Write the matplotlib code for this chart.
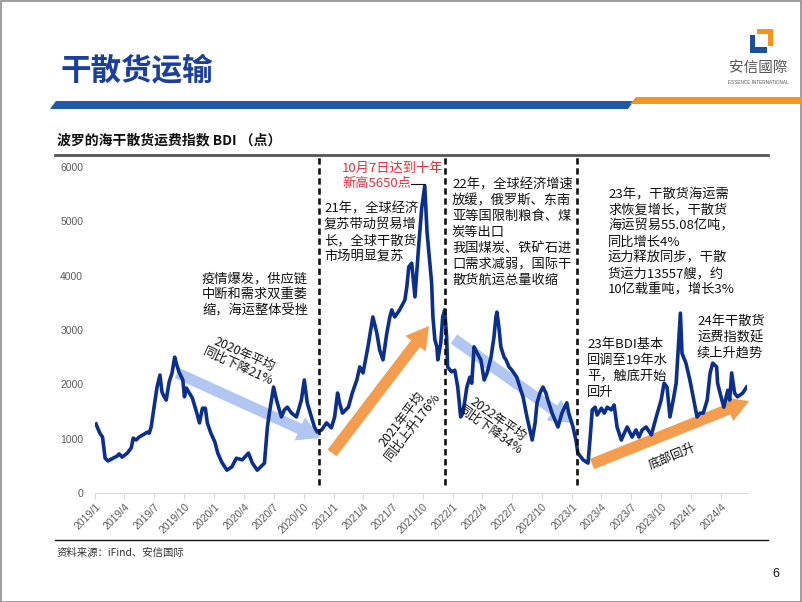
import matplotlib
matplotlib.use("Agg")
import matplotlib.pyplot as plt
import matplotlib.dates as mdates
from matplotlib.patches import Polygon, Rectangle
import pandas as pd

plt.rcParams['font.family'] = ['Noto Sans CJK SC', 'DejaVu Sans']

# BDI readings taken off the reference chart
dates = [
    "2019-01-04", "2019-01-16", "2019-01-24", "2019-02-01", "2019-02-10", "2019-02-25",
    "2019-03-10", "2019-03-16", "2019-03-25", "2019-04-10", "2019-04-22", "2019-04-28",
    "2019-05-07", "2019-05-16", "2019-06-01", "2019-06-10", "2019-06-16", "2019-06-22",
    "2019-07-01", "2019-07-10", "2019-07-19", "2019-07-25", "2019-08-01", "2019-08-07",
    "2019-08-16", "2019-08-25", "2019-09-02", "2019-09-07", "2019-09-15", "2019-09-27",
    "2019-10-02", "2019-10-08", "2019-10-17", "2019-10-26", "2019-11-08", "2019-11-17",
    "2019-11-26", "2019-12-05", "2019-12-11", "2019-12-22", "2020-01-03", "2020-01-12",
    "2020-01-24", "2020-02-09", "2020-02-24", "2020-03-09", "2020-03-27", "2020-04-15",
    "2020-04-27", "2020-05-12", "2020-06-03", "2020-06-12", "2020-06-18", "2020-07-01",
    "2020-07-10", "2020-07-25", "2020-08-03", "2020-08-12", "2020-08-25", "2020-09-09",
    "2020-09-24", "2020-10-03", "2020-10-12", "2020-10-25", "2020-11-03", "2020-11-12",
    "2020-11-25", "2020-12-10", "2020-12-25", "2021-01-04", "2021-01-13", "2021-01-19",
    "2021-01-28", "2021-02-15", "2021-02-27", "2021-03-13", "2021-03-22", "2021-04-01",
    "2021-04-16", "2021-05-01", "2021-05-13", "2021-05-22", "2021-06-01", "2021-06-13",
    "2021-06-22", "2021-06-28", "2021-07-07", "2021-07-22", "2021-08-07", "2021-08-13",
    "2021-08-19", "2021-08-28", "2021-09-01", "2021-09-07", "2021-09-13", "2021-09-19",
    "2021-09-28", "2021-10-07", "2021-10-14", "2021-10-28", "2021-11-01", "2021-11-07",
    "2021-11-13", "2021-11-16", "2021-11-25", "2021-12-01", "2021-12-07", "2021-12-13",
    "2021-12-16", "2021-12-28", "2022-01-07", "2022-01-16", "2022-01-25", "2022-02-01",
    "2022-02-13", "2022-02-22", "2022-02-28", "2022-03-07", "2022-03-16", "2022-03-28",
    "2022-04-07", "2022-04-16", "2022-04-28", "2022-05-07", "2022-05-13", "2022-05-16",
    "2022-05-22", "2022-05-28", "2022-06-07", "2022-06-13", "2022-06-22", "2022-07-01",
    "2022-07-16", "2022-07-25", "2022-08-04", "2022-08-16", "2022-08-25", "2022-09-01",
    "2022-09-10", "2022-09-16", "2022-09-25", "2022-10-04", "2022-10-13", "2022-10-19",
    "2022-11-01", "2022-11-10", "2022-11-19", "2022-12-01", "2022-12-16", "2022-12-22",
    "2023-01-04", "2023-01-13", "2023-01-19", "2023-02-04", "2023-02-19", "2023-02-25",
    "2023-03-04", "2023-03-13", "2023-03-19", "2023-04-01", "2023-04-10", "2023-04-19",
    "2023-05-01", "2023-05-10", "2023-05-19", "2023-06-01", "2023-06-10", "2023-06-19",
    "2023-07-04", "2023-07-16", "2023-07-25", "2023-08-04", "2023-08-16", "2023-09-01",
    "2023-09-16", "2023-10-01", "2023-10-10", "2023-10-19", "2023-10-28", "2023-11-07",
    "2023-11-16", "2023-11-22", "2023-11-29", "2023-12-04", "2023-12-16", "2023-12-28",
    "2024-01-07", "2024-01-19", "2024-01-28", "2024-02-07", "2024-02-19", "2024-02-28",
    "2024-03-07", "2024-03-19", "2024-03-22", "2024-04-04", "2024-04-10", "2024-04-22",
    "2024-04-28", "2024-05-04", "2024-05-13", "2024-05-22", "2024-06-07", "2024-06-19",
]
bdi = [
    1270, 1100, 1030, 640, 590, 640,
    680, 720, 660, 735, 830, 1010,
    975, 1030, 1085, 1120, 1100, 1215,
    1580, 1950, 2170, 1860, 1770, 1710,
    2040, 2210, 2500, 2390, 2230, 2080,
    1770, 1930, 1840, 1750, 1490, 1290,
    1560, 1560, 1290, 1100, 940, 735,
    570, 420, 480, 640, 610, 735,
    550, 420, 550, 1215, 1470, 1950,
    1710, 1400, 1530, 1580, 1470, 1400,
    1710, 2080, 1660, 1400, 1215, 1120,
    1160, 1290, 1200, 1400, 1840, 1660,
    1470, 1580, 1840, 2080, 2320, 2210,
    2690, 3240, 2950, 2630, 2450, 2950,
    3240, 3370, 3240, 3370, 3550, 3790,
    4160, 4230, 3980, 3610, 4100, 4600,
    5260, 5650, 4800, 3870, 3240, 2820,
    2690, 2450, 2760, 3240, 3370, 2870,
    2320, 2230, 2260, 1950, 1400, 1470,
    1950, 2130, 2020, 2690, 2580, 2450,
    2080, 2210, 2500, 2870, 3240, 3330,
    3060, 2690, 2500, 2450, 2320, 2260,
    2130, 1950, 1770, 1400, 1160, 975,
    1290, 1660, 1840, 1950, 1840, 1710,
    1470, 1340, 1215, 1470, 1660, 1470,
    1215, 975, 735, 610, 550, 975,
    1530, 1580, 1435, 1560, 1470, 1580,
    1530, 1620, 1215, 975, 1100, 1215,
    1030, 1160, 1030, 1160, 1215, 1070,
    1400, 1710, 2020, 1950, 1400, 1710,
    2020, 2630, 3310, 2570, 2390, 2080,
    1770, 1400, 1470, 1470, 1710, 2210,
    2390, 2320, 2020, 1710, 1580, 1890,
    1710, 2210, 1840, 1770, 1840, 1950,
]
period_breaks = ["2020-11-16", "2021-12-07", "2023-01-16"]
y_ticks = [0, 1000, 2000, 3000, 4000, 5000, 6000]

W, H = 802, 602


def P(x, y):
    # pixel position on the slide -> figure fraction
    return x / W, 1 - y / H


fig = plt.figure(figsize=(W / 100, H / 100), dpi=100)
fig.patch.set_facecolor('white')

# slide frame
fig.add_artist(Rectangle((0.5 / W, 0.5 / H), 1 - 1.5 / W, 1 - 1.5 / H, transform=fig.transFigure,
                         fill=False, ec='#8c8c8c', lw=1.2))

# header
fig.text(*P(60, 71), "干散货运输", fontsize=22, color='#1c3f9c', fontweight='bold', va='center')
fig.add_artist(Polygon([P(56, 101), P(634, 101), P(628, 109), P(50, 109)], closed=True,
                       transform=fig.transFigure, fc='#1f5aa8', ec='none'))
fig.add_artist(Polygon([P(636, 97), P(802, 97), P(802, 104), P(630, 104)], closed=True,
                       transform=fig.transFigure, fc='#f7941d', ec='none'))
# logo
fig.add_artist(Polygon([P(757, 29), P(773, 29), P(773, 46), P(768, 46), P(768, 34), P(757, 34)],
                       closed=True, transform=fig.transFigure, fc='#f7941d', ec='none'))
fig.add_artist(Polygon([P(750, 35), P(755, 35), P(755, 47), P(767, 47), P(767, 53), P(750, 53)],
                       closed=True, transform=fig.transFigure, fc='#1f4e9c', ec='none'))
fig.text(*P(758, 68), "安信國際", fontsize=10.5, color='#555555', ha='center', va='center')
fig.text(*P(758, 82), "ESSENCE INTERNATIONAL", fontsize=3.3, color='#555555', ha='center',
         va='center', family='Liberation Sans')

# chart title and rules
fig.text(*P(57, 140), "波罗的海干散货运费指数 BDI （点）", fontsize=10, fontweight='bold',
         color='#111111', va='center')
fig.add_artist(plt.Line2D([55 / W, 768 / W], [1 - 155 / H] * 2, transform=fig.transFigure,
                          color='#555555', lw=2))
fig.add_artist(plt.Line2D([55 / W, 768 / W], [1 - 540 / H] * 2, transform=fig.transFigure,
                          color='#111111', lw=1))
fig.text(*P(57, 553), "资料来源：iFind、安信国际", fontsize=7.5, color='#333333', va='center')
fig.text(*P(776, 574), "6", fontsize=9, color='#111111', ha='center', va='center',
         family='Liberation Sans')

# main chart
ax = fig.add_axes([95 / W, 1 - 493 / H, (747 - 95) / W, (493 - 167) / H])
x = pd.to_datetime(dates)
ax.plot(x, bdi, color='#0d2f8c', lw=2.6, solid_joinstyle='round', zorder=3)
ax.set_ylim(0, 6000)
ax.set_xlim(pd.Timestamp("2019-01-01"), pd.Timestamp("2024-06-20"))
ax.set_yticks(y_ticks)
ax.set_yticklabels([str(v) for v in y_ticks], family='Liberation Sans', fontsize=7.5,
                   color='#595959')
ax.xaxis.set_major_locator(mdates.MonthLocator(bymonth=[1, 4, 7, 10]))
ax.xaxis.set_major_formatter(mdates.DateFormatter('%Y/%-m'))
for lab in ax.get_xticklabels():
    lab.set_rotation(45)
    lab.set_ha('right')
    lab.set_rotation_mode('anchor')
    lab.set_family('Liberation Sans')
    lab.set_fontsize(7.5)
    lab.set_color('#595959')
ax.tick_params(axis='y', length=0, pad=8.5)
ax.tick_params(axis='x', length=4, color='#d9d9d9', pad=2)
for s in ['left', 'top', 'right']:
    ax.spines[s].set_visible(False)
ax.spines['bottom'].set_color('#d9d9d9')
ax.patch.set_alpha(0)

for d in period_breaks:
    ax.axvline(pd.Timestamp(d), ymin=0.025, ymax=1.037, color='#111111', lw=1.9,
               ls=(0, (2.4, 1.4)), clip_on=False, zorder=4)


def arrow(x0, y0, x1, y1, color):
    ax.annotate('', xy=(x1, H - y1), xytext=(x0, H - y0), xycoords='figure pixels',
                textcoords='figure pixels',
                arrowprops=dict(arrowstyle='simple,head_length=1.0,head_width=1.15,tail_width=0.5',
                                mutation_scale=16, fc=color, ec='none', shrinkA=0, shrinkB=0),
                zorder=2)


blue_arrow = '#b1c7f2'
orange_arrow = '#f59d4f'
arrow(177, 373, 320, 438, blue_arrow)
arrow(332, 453, 429, 326, orange_arrow)
arrow(454, 339, 572, 423, blue_arrow)
arrow(592, 464, 749, 401, orange_arrow)

tkw = dict(fontsize=9, color='#111111', ha='center', va='center', rotation_mode='anchor',
           multialignment='center', linespacing=1.0)
fig.text(*P(241, 360), "2020年平均\n同比下降21%", rotation=-24.5, **tkw)
fig.text(*P(407, 423), "2021年平均\n同比上升176%", rotation=52, **tkw)
fig.text(*P(494, 425), "2022年平均\n同比下降34%", rotation=-35.5, **tkw)
fig.text(*P(672, 456), "底部回升", rotation=22, **tkw)

nkw = dict(fontsize=9.5, color='#111111', ha='left', va='top', linespacing=1.29)
fig.text(*P(202, 272), "疫情爆发，供应链\n中断和需求双重萎\n缩，海运整体受挫", **nkw)
fig.text(*P(324, 202), "21年，全球经济\n复苏带动贸易增\n长，全球干散货\n市场明显复苏", **nkw)
fig.text(*P(452, 178), "22年，全球经济增速\n放缓，俄罗斯、东南\n亚等国限制粮食、煤\n炭等出口\n我国煤炭、铁矿石进\n口需求减弱，国际干\n散货航运总量收缩",
         **nkw)
fig.text(*P(608, 188), "23年，干散货海运需\n求恢复增长，干散货\n海运贸易55.08亿吨，\n同比增长4%\n运力释放同步，干散\n货运力13557艘，约\n10亿载重吨，增长3%",
         **nkw)
fig.text(*P(587, 338), "23年BDI基本\n回调至19年水\n平，触底开始\n回升", **nkw)
fig.text(*P(697, 315), "24年干散货\n运费指数延\n续上升趋势", **nkw)

fig.text(*P(342, 162), "10月7日达到十年\n新高5650点", fontsize=9.5, color='#e8303a', ha='left',
         va='top', linespacing=1.2)
fig.add_artist(plt.Line2D([411 / W, 425 / W], [1 - 184 / H] * 2, transform=fig.transFigure,
                          color='#111111', lw=0.8))

fig.savefig('out.png', dpi=100)
